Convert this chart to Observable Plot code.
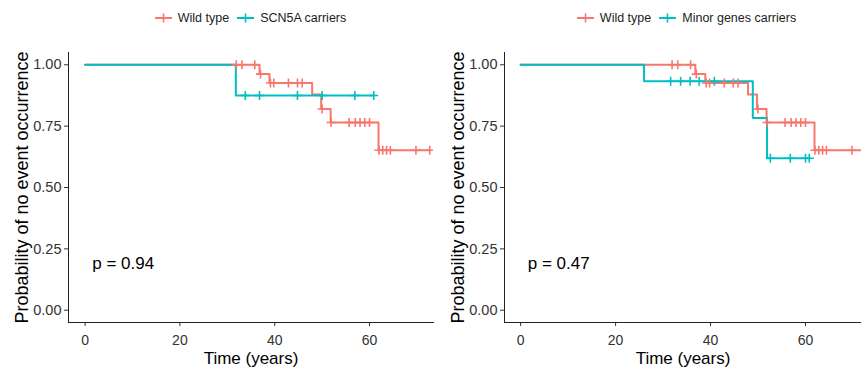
<!DOCTYPE html>
<html>
<head>
<meta charset="utf-8">
<script src="https://cdn.jsdelivr.net/npm/d3@7"></script>
<script src="https://cdn.jsdelivr.net/npm/@observablehq/plot@0.6"></script>
<style>
  body { margin: 0; overflow: hidden; background: #fff; font-family: "Liberation Sans", Arial, sans-serif; }
  #wrap { display: flex; width: 861px; height: 369px; overflow: hidden; }
  .fig { flex: none; overflow: hidden; }
  .legend { height: 36px; margin-left: 68px; width: 365px; display: flex; justify-content: center; align-items: center; font-size: 12.5px; color: #222; }
  .legend .item { display: flex; align-items: center; margin: 0 4px; }
  .legend svg { margin-right: 6px; }
</style>
</head>
<body>
<div id="wrap"></div>
<script>
// ---- data ----
const groupsLeft = ["Wild type", "SCN5A carriers"];
const groupsRight = ["Wild type", "Minor genes carriers"];
const colors = ["#F8766D", "#00BFC4"];

// Wild type (same in both panels)
const wtTimes = [0, 36.8, 38.9, 47.9, 49.8, 51.8, 61.9];
const wtSurv = [1, 0.962, 0.926, 0.879, 0.820, 0.765, 0.652];
const wtEnd = 72.7;
const wtCensor = [31.9, 33.1, 35.8, 37.0, 39.1, 39.8, 42.9, 44.8, 45.8, 50.0, 51.9, 55.7, 57.0, 58.0, 59.0, 60.0, 62.0, 62.8, 63.6, 64.4, 69.8, 72.7];

// SCN5A carriers
const scnTimes = [0, 31.8];
const scnSurv = [1, 0.875];
const scnEnd = 60.9;
const scnCensor = [33.8, 36.8, 44.8, 50.0, 56.9, 60.9];

// Minor genes carriers
const minTimes = [0, 26.0, 48.9, 51.9];
const minSurv = [1, 0.933, 0.783, 0.619];
const minEnd = 60.8;
const minCensor = [31.6, 33.7, 35.7, 37.6, 40.8, 52.6, 56.8, 60.0, 60.8];

const pLeft = "p = 0.94";
const pRight = "p = 0.47";
const xTicks = [0, 20, 40, 60];
const yTicks = [0, 0.25, 0.5, 0.75, 1];

// ---- helpers ----
function stepRows(times, surv, end, group) {
  const rows = times.map((t, i) => ({time: t, surv: surv[i], group}));
  rows.push({time: end, surv: surv[surv.length - 1], group});
  return rows;
}
function survAt(times, surv, t) {
  let s = surv[0];
  for (let i = 0; i < times.length; i++) if (times[i] <= t) s = surv[i];
  return s;
}
function censorRows(times, surv, cens, group) {
  return cens.map(t => ({time: t, surv: survAt(times, surv, t), group}));
}
const plusSymbol = {
  draw(ctx, size) {
    const r = Math.sqrt(size / Math.PI);
    ctx.moveTo(-r, 0); ctx.lineTo(r, 0);
    ctx.moveTo(0, -r); ctx.lineTo(0, r);
  }
};

function legend(names) {
  const div = document.createElement("div");
  div.className = "legend";
  names.forEach((n, i) => {
    const it = document.createElement("div");
    it.className = "item";
    it.innerHTML = `<svg width="17" height="12"><line x1="0" x2="17" y1="6" y2="6" stroke="${colors[i]}" stroke-width="2"/><line x1="8.5" x2="8.5" y1="1.5" y2="10.5" stroke="${colors[i]}" stroke-width="1.6"/></svg><span>${n}</span>`;
    div.appendChild(it);
  });
  return div;
}

function panel({width, marginRight, xDomain, names, lines, cens, pText}) {
  return Plot.plot({
    width, height: 333,
    marginTop: 16, marginBottom: 47, marginLeft: 68, marginRight,
    style: {fontFamily: "Liberation Sans, Arial, sans-serif", background: "white"},
    x: {domain: xDomain},
    y: {domain: [-0.05, 1.05]},
    color: {domain: names, range: colors},
    marks: [
      Plot.axisX({ticks: xTicks, tickSize: 4, tickPadding: 9, fontSize: 14, color: "#333", label: null}),
      Plot.axisY({ticks: yTicks, tickFormat: d3.format(".2f"), tickSize: 4, tickPadding: 3, fontSize: 14.5, color: "#333", label: null}),
      Plot.frame({anchor: "left", stroke: "#222"}),
      Plot.frame({anchor: "bottom", stroke: "#222"}),
      Plot.line(lines, {x: "time", y: "surv", z: "group", stroke: "group", curve: "step-after", strokeWidth: 2, clip: true}),
      Plot.dot(cens, {x: "time", y: "surv", stroke: "group", fill: "none", symbol: plusSymbol, r: 4.5, strokeWidth: 1.6, clip: true}),
      Plot.text([pText], {x: 1.5, y: 0.19, textAnchor: "start", fontSize: 17, fill: "#000"}),
      Plot.text(["Time (years)"], {frameAnchor: "bottom", dy: 36.5, lineAnchor: "middle", textAnchor: "middle", fontSize: 17, fill: "#000"}),
      Plot.text(["Probability of no event occurrence"], {frameAnchor: "left", dx: -46, rotate: -90, textAnchor: "middle", lineAnchor: "middle", fontSize: 18, fill: "#000"})
    ]
  });
}

const wrap = document.getElementById("wrap");

const leftLines = [...stepRows(wtTimes, wtSurv, wtEnd, groupsLeft[0]), ...stepRows(scnTimes, scnSurv, scnEnd, groupsLeft[1])];
const leftCens = [...censorRows(wtTimes, wtSurv, wtCensor, groupsLeft[0]), ...censorRows(scnTimes, scnSurv, scnCensor, groupsLeft[1])];
const rightLines = [...stepRows(wtTimes, wtSurv, wtEnd, groupsRight[0]), ...stepRows(minTimes, minSurv, minEnd, groupsRight[1])];
const rightCens = [...censorRows(wtTimes, wtSurv, wtCensor, groupsRight[0]), ...censorRows(minTimes, minSurv, minCensor, groupsRight[1])];

const f1 = document.createElement("div"); f1.className = "fig"; f1.style.width = "436px";
f1.appendChild(legend(groupsLeft));
f1.appendChild(panel({width: 436, marginRight: 3, xDomain: [-3.5, 73.5], names: groupsLeft, lines: leftLines, cens: leftCens, pText: pLeft}));
wrap.appendChild(f1);

const f2 = document.createElement("div"); f2.className = "fig"; f2.style.width = "425px";
f2.appendChild(legend(groupsRight));
f2.appendChild(panel({width: 425, marginRight: 0, xDomain: [-3.4, 71.8], names: groupsRight, lines: rightLines, cens: rightCens, pText: pRight}));
wrap.appendChild(f2);
</script>
</body>
</html>
